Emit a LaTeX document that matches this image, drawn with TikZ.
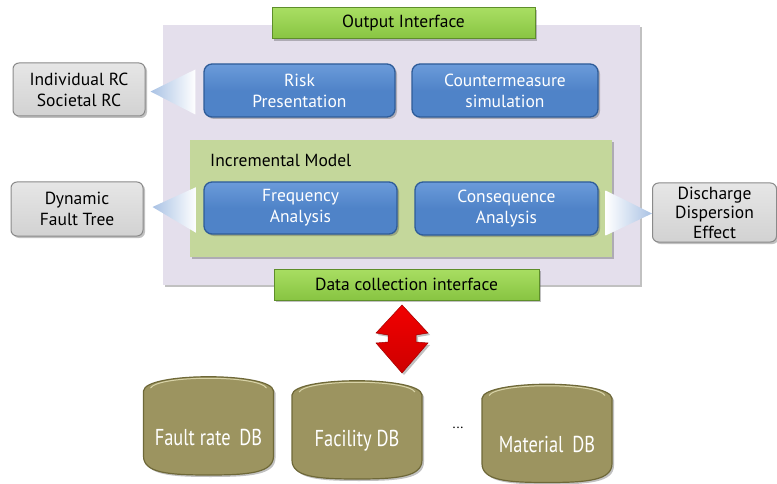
\documentclass[tikz,border=0pt]{standalone}
\usepackage{fontspec}
\setmainfont{PT Sans}
\newfontfamily\condfont{PT Sans}[FakeStretch=0.8]
\usetikzlibrary{shadows,calc}
\definecolor{panelc}{HTML}{E4DFEC}
\definecolor{incrc}{HTML}{C4D79B}
\definecolor{bluef}{HTML}{4F83C8}
\definecolor{blueft}{HTML}{6B9BDA}
\definecolor{blued}{HTML}{2E5C99}
\definecolor{grayf}{HTML}{D2D2D2}
\definecolor{grayt}{HTML}{E6E6E6}
\definecolor{grayd}{HTML}{8A8A8A}
\definecolor{greent}{HTML}{A8DE62}
\definecolor{greenb}{HTML}{88C442}
\definecolor{greend}{HTML}{5E8E2A}
\definecolor{dbf}{HTML}{9C9460}
\definecolor{dbd}{HTML}{6E6838}
\definecolor{dbh}{HTML}{D8D3A8}
\definecolor{trib}{HTML}{A9C2E4}
\definecolor{arrowred}{HTML}{F20000}
\definecolor{arrowd}{HTML}{A00000}
\tikzset{
  shad/.style={drop shadow={shadow xshift=2pt,shadow yshift=-2pt,opacity=0.35,fill=black!70}},
  lbl/.style={font=\fontsize{17.5}{21}\selectfont},
  bluebox/.style={shad,lbl,rounded corners=8pt,top color=blueft,bottom color=bluef,middle color=bluef,draw=blued,line width=1.3pt,text=white,align=center,inner sep=0pt},
  graybox/.style={shad,lbl,rounded corners=6pt,top color=grayt,bottom color=grayf,draw=grayd,line width=1pt,text=black,align=center,inner sep=0pt},
  greenbox/.style={shad,lbl,top color=greent,bottom color=greenb,draw=greend,line width=1pt,text=black,inner sep=0pt},
  dblabel/.style={text=white,font=\condfont\fontsize{23}{25}\selectfont},
}
\begin{document}
\begin{tikzpicture}[x=1pt,y=-1pt]
\useasboundingbox (0,0) rectangle (777,484);
% panel
\node[fill=panelc,shad,minimum width=477pt,minimum height=260pt,inner sep=0pt] (panel) at (401.5,155) {};
\node[fill=incrc,shad,minimum width=422pt,minimum height=117pt,inner sep=0pt] (incr) at (401,198.5) {};
\node[anchor=west,lbl,inner sep=0pt] (incrlabel) at (210,160) {Incremental Model};
% interfaces
\node[greenbox,minimum width=263pt,minimum height=31pt] (out) at (403.5,23.5) {Output Interface};
\node[greenbox,minimum width=265pt,minimum height=31pt] (data) at (406.5,284.5) {Data collection interface};
% blue boxes
\node[bluebox,minimum width=191pt,minimum height=53pt] (risk) at (299.5,90.5) {Risk\\Presentation};
\node[bluebox,minimum width=186pt,minimum height=53pt] (counter) at (505,90.5) {Countermeasure\\simulation};
\node[bluebox,minimum width=193pt,minimum height=52pt] (freq) at (300.5,208) {Frequency\\Analysis};
\node[bluebox,minimum width=183pt,minimum height=53pt] (cons) at (506.5,208.5) {Consequence\\Analysis};
% gray boxes
\node[graybox,minimum width=132pt,minimum height=53pt] (indrc) at (79,89.5) {Individual RC\\Societal RC};
\node[graybox,minimum width=132pt,minimum height=54pt] (dft) at (77,209) {Dynamic\\Fault Tree};
\node[graybox,minimum width=124pt,minimum height=59pt,font=\fontsize{17.5}{19.5}\selectfont] (dis) at (714.5,212.5) {Discharge\\Dispersion\\Effect};
% triangles
\path[left color=trib,right color=white] ($(indrc.east)+(5,2)$) -- ($(risk.west)+(-8,-21)$) -- ($(risk.west)+(-8,24)$) -- cycle;
\path[left color=trib,right color=white] ($(dft.east)+(9,-2)$) -- ($(freq.west)+(-7,-21)$) -- ($(freq.west)+(-7,25)$) -- cycle;
\path[left color=white,right color=trib] ($(cons.east)+(7,-18)$) -- ($(dis.west)+(0,1)$) -- ($(cons.east)+(7,27)$) -- cycle;
% red double arrow
\coordinate (arr) at (402,339);
\path[shad,top color=arrowred,bottom color=arrowred!85!black,draw=arrowd,line width=0.5pt]
  ($(arr)+(0,-34)$) -- ($(arr)+(26,-6)$) -- ($(arr)+(14,-4)$) -- ($(arr)+(14,3)$) -- ($(arr)+(26,4)$)
  -- ($(arr)+(0,34)$) -- ($(arr)+(-26,4)$) -- ($(arr)+(-14,3)$) -- ($(arr)+(-14,-4)$) -- ($(arr)+(-26,-6)$) -- cycle;
% databases
\tikzset{dbcyl/.pic={
  \path[shad,fill=dbf,draw=dbd,line width=1.2pt] (-65,-35) .. controls (-64,-54) and (64,-54) .. (65,-35) -- (65,30) .. controls (65,47) and (40,49) .. (0,49) .. controls (-40,49) and (-65,47) .. (-65,30) -- cycle;
  \draw[dbh,line width=1pt] (-58,-38) .. controls (-50,-51) and (50,-51) .. (58,-38);
}}
\pic at (208.5,426) {dbcyl};
\pic at (357,430) {dbcyl};
\pic at (547,433.5) {dbcyl};
\node[dblabel] (db1) at (208.5,437) {Fault rate\, DB};
\node[dblabel] (db2) at (357,441) {Facility DB};
\node[dblabel] (db3) at (547,444) {Material\, DB};
\node[font=\fontsize{14}{16}\selectfont] (dots) at (458,428) {...};
\end{tikzpicture}
\end{document}
